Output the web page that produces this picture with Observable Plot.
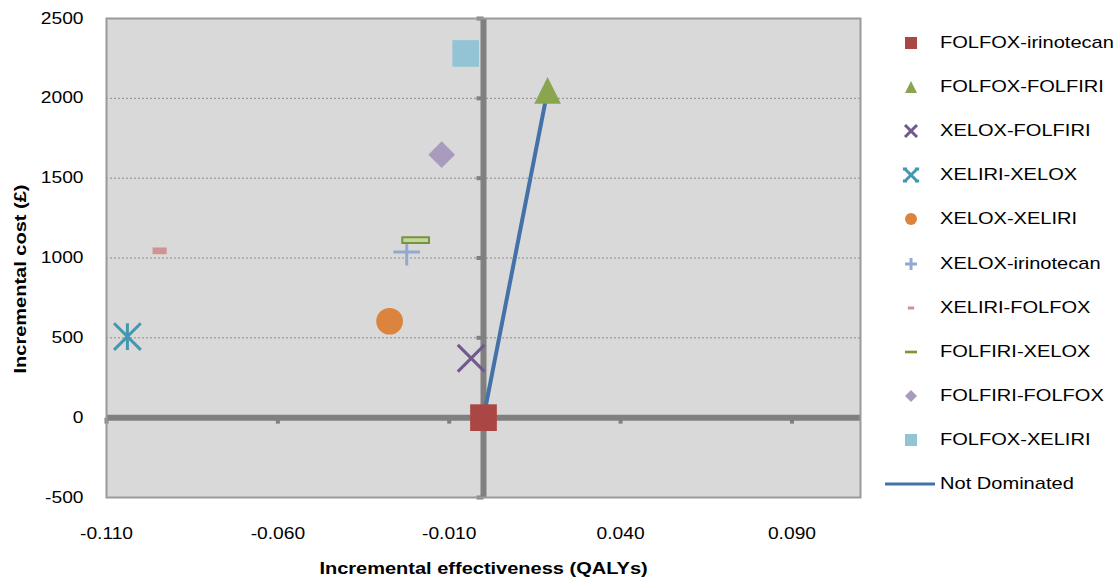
<!DOCTYPE html>
<html>
<head>
<meta charset="utf-8">
<script src="https://cdn.jsdelivr.net/npm/d3@7"></script>
<script src="https://cdn.jsdelivr.net/npm/@observablehq/plot@0.6"></script>
<style>
  html, body { margin: 0; padding: 0; background: #ffffff; }
  #wrap { position: relative; width: 1116px; height: 580px; font-family: "Liberation Sans", Arial, sans-serif; }
  #wrap svg.plot { position: absolute; left: 0; top: 0; }
  .leg-row { position: absolute; left: 880px; height: 30px; display: flex; align-items: center; white-space: nowrap; }
  .leg-row svg { width: 60px; height: 30px; flex: none; }
  .leg-row span { display: inline-block; font-size: 17px; color: #000; transform: scaleX(1.18); transform-origin: left center; }
</style>
</head>
<body>
<div id="wrap"></div>
<script>
// ---- data ----
const strategies = ["FOLFOX-irinotecan", "FOLFOX-FOLFIRI", "XELOX-FOLFIRI", "XELIRI-XELOX", "XELOX-XELIRI",
                    "XELOX-irinotecan", "XELIRI-FOLFOX", "FOLFIRI-XELOX", "FOLFIRI-FOLFOX", "FOLFOX-XELIRI"];
const effectiveness = [0, 0.0187, -0.0036, -0.1039, -0.0274, -0.0224, -0.0945, -0.0198, -0.0122, -0.0052];
const costs = [0, 2050, 372, 508, 604, 1037, 1045, 1112, 1647, 2281];
const frontierNames = ["FOLFOX-irinotecan", "FOLFOX-FOLFIRI"];
const frontierLabel = "Not Dominated";
const xTicks = [-0.11, -0.06, -0.01, 0.04, 0.09];
const yTicks = [-500, 0, 500, 1000, 1500, 2000, 2500];
const yGrid = [500, 1000, 1500, 2000];
const xTitle = "Incremental effectiveness (QALYs)";
const yTitle = "Incremental cost (£)";

// ---- marker shapes (Excel-like) ----
const rOf = size => Math.sqrt(size / Math.PI);
const sym = {
  square: { draw(c, s) { const r = rOf(s); c.rect(-r, -r, 2 * r, 2 * r); } },
  triangle: { draw(c, s) { const r = rOf(s); c.moveTo(0, -r); c.lineTo(r, r); c.lineTo(-r, r); c.closePath(); } },
  times: { draw(c, s) { const r = rOf(s); c.moveTo(-r, -r); c.lineTo(r, r); c.moveTo(-r, r); c.lineTo(r, -r); } },
  star: { draw(c, s) { const r = rOf(s); c.moveTo(-r, -r); c.lineTo(r, r); c.moveTo(-r, r); c.lineTo(r, -r); c.moveTo(0, -r); c.lineTo(0, r); } },
  starIcon: { draw(c, s) { const r = rOf(s); const k = r * 0.35;
    c.moveTo(-r, -r); c.lineTo(r, r); c.moveTo(-r, r); c.lineTo(r, -r);
    c.moveTo(-r - k, -r); c.lineTo(-r + k, -r); c.moveTo(r - k, -r); c.lineTo(r + k, -r);
    c.moveTo(-r - k, r); c.lineTo(-r + k, r); c.moveTo(r - k, r); c.lineTo(r + k, r); } },
  circle: { draw(c, s) { const r = rOf(s); c.moveTo(r, 0); c.arc(0, 0, r, 0, 2 * Math.PI); } },
  plus: { draw(c, s) { const r = rOf(s); c.moveTo(-r, 0); c.lineTo(r, 0); c.moveTo(0, -r); c.lineTo(0, r); } },
  dash: { draw(c, s) { const r = rOf(s); const w = r * 0.53, h = r * 0.25; c.rect(-w, -h, 2 * w, 2 * h); } },
  longdash: { draw(c, s) { const r = rOf(s); const w = r * 1.0, h = r * 0.22; c.rect(-w, -h, 2 * w, 2 * h); } },
  diamond: { draw(c, s) { const r = rOf(s); c.moveTo(0, -r); c.lineTo(r, 0); c.lineTo(0, r); c.lineTo(-r, 0); c.closePath(); } },
  ytick: { draw(c, s) { const r = rOf(s); c.moveTo(-r, 0); c.lineTo(0, 0); } },
  xtick: { draw(c, s) { const r = rOf(s); c.moveTo(0, 0); c.lineTo(0, r); } }
};

const styles = [
  { symbol: sym.square,   fill: "#aa4643", stroke: "none" },
  { symbol: sym.triangle, fill: "#89a54e", stroke: "none" },
  { symbol: sym.times,    fill: "none", stroke: "#71588f", strokeWidth: 3 },
  { symbol: sym.star,     fill: "none", stroke: "#4198af", strokeWidth: 3, icon: sym.starIcon },
  { symbol: sym.circle,   fill: "#db843d", stroke: "none" },
  { symbol: sym.plus,     fill: "none", stroke: "#93a9cf", strokeWidth: 3 },
  { symbol: sym.dash,     fill: "#d19392", stroke: "none" },
  { symbol: sym.longdash, fill: "#c3d69b", stroke: "#77933c", strokeWidth: 2 },
  { symbol: sym.diamond,  fill: "#a99bbd", stroke: "none" },
  { symbol: sym.square,   fill: "#93c4d5", stroke: "none" }
];
const lineColor = "#4472a8";

const points = strategies.map((name, i) => ({ name, x: effectiveness[i], y: costs[i] }));
const frontier = frontierNames.map(n => points.find(p => p.name === n));

const dotMarks = points.map((p, i) => Plot.dot([p], {
  x: "x", y: "y", r: 13.35,
  symbol: styles[i].symbol, fill: styles[i].fill, stroke: styles[i].stroke,
  strokeWidth: styles[i].strokeWidth || 1
}));

const plot = Plot.plot({
  width: 1116,
  height: 580,
  marginLeft: 106,
  marginRight: 256,
  marginTop: 18,
  marginBottom: 83,
  x: { domain: [-0.11, 0.11] },
  y: { domain: [-500, 2500] },
  style: { fontFamily: '"Liberation Sans", Arial, sans-serif', fontSize: "16px", color: "#000", background: "transparent", overflow: "visible" },
  marks: [
    Plot.frame({ fill: "#d9d9d9", stroke: "none" }),
    Plot.gridY(yGrid, { stroke: "#8c8c8c", strokeOpacity: 1, strokeWidth: 1, strokeDasharray: "2,2" }),
    Plot.ruleY([0], { stroke: "#808080", strokeWidth: 6 }),
    Plot.ruleX([0], { stroke: "#808080", strokeWidth: 6 }),
    Plot.dot(yTicks, { x: () => 0, y: d => d, r: 7, symbol: sym.ytick, stroke: "#808080", strokeWidth: 4, fill: "none" }),
    Plot.dot(xTicks, { x: d => d, y: () => 0, r: 6, symbol: sym.xtick, stroke: "#808080", strokeWidth: 4, fill: "none" }),
    Plot.frame({ stroke: "#9a9a9a", strokeWidth: 2, fill: "none" }),
    Plot.line(frontier, { x: "x", y: "y", stroke: lineColor, strokeWidth: 4 }),
    ...dotMarks,
    Plot.axisX({ ticks: xTicks, tickFormat: d => d.toFixed(3), tickSize: 0, tickPadding: 30, label: null }),
    Plot.axisY({ ticks: yTicks, tickFormat: d => String(d), tickSize: 0, tickPadding: 23, label: null }),
    Plot.text([xTitle], { text: d => d, frameAnchor: "bottom", dy: 71, fontWeight: "bold", fontSize: 16, textAnchor: "middle", lineAnchor: "middle", className: "title" }),
    Plot.text([yTitle], { text: d => d, frameAnchor: "left", dx: -86, dy: 21, rotate: -90, fontWeight: "bold", fontSize: 16, textAnchor: "middle", lineAnchor: "middle", className: "title" })
  ]
});
plot.classList.add("plot");
const wrap = document.getElementById("wrap");
wrap.appendChild(plot);

// widen text horizontally like the reference rendering
plot.querySelectorAll("text").forEach(t => {
  const isTitle = t.closest(".title") || t.getAttribute("font-weight") === "bold" || (t.parentNode && t.parentNode.getAttribute && t.parentNode.getAttribute("font-weight") === "bold");
  const f = isTitle ? 1.25 : 1.2;
  const L = t.getComputedTextLength();
  if (L > 0) {
    t.setAttribute("textLength", (L * f).toFixed(2));
    t.setAttribute("lengthAdjust", "spacingAndGlyphs");
  }
});

// ---- legend ----
const rowCenters = 43, rowStep = 44.1;
const legendItems = strategies.map((name, i) => ({ name, style: styles[i] }));
legendItems.forEach((item, i) => {
  const row = document.createElement("div");
  row.className = "leg-row";
  row.style.top = (rowCenters + i * rowStep - 15) + "px";
  const svg = d3.create("svg").attr("viewBox", "0 0 60 30");
  const st = item.style;
  svg.append("path")
    .attr("transform", "translate(31,15)")
    .attr("d", d3.symbol(st.icon || st.symbol, Math.PI * 6 * 6)())
    .attr("fill", st.symbol === sym.longdash ? st.stroke : st.fill)
    .attr("stroke", st.symbol === sym.longdash ? "none" : st.stroke)
    .attr("stroke-width", st.strokeWidth ? Math.min(st.strokeWidth, 3) : 0);
  row.appendChild(svg.node());
  const span = document.createElement("span");
  span.textContent = item.name;
  row.appendChild(span);
  wrap.appendChild(row);
});
{
  const row = document.createElement("div");
  row.className = "leg-row";
  row.style.top = (rowCenters + strategies.length * rowStep - 15) + "px";
  const svg = d3.create("svg").attr("viewBox", "0 0 60 30");
  svg.append("line").attr("x1", 5).attr("x2", 55).attr("y1", 15).attr("y2", 15)
    .attr("stroke", lineColor).attr("stroke-width", 3);
  row.appendChild(svg.node());
  const span = document.createElement("span");
  span.textContent = frontierLabel;
  row.appendChild(span);
  wrap.appendChild(row);
}
</script>
</body>
</html>
